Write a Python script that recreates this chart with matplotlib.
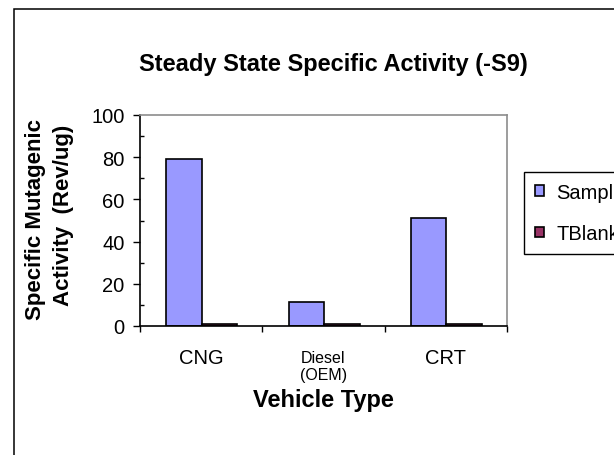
import numpy as np
import matplotlib
matplotlib.use("Agg")
import matplotlib.pyplot as plt
from matplotlib.patches import Rectangle

plt.rcParams["font.family"] = ["Liberation Sans", "DejaVu Sans"]

categories = ["CNG", "Diesel\n(OEM)", "CRT"]
sample = [79, 11.5, 51]
tblank = [0.9, 0.9, 0.9]

W, H = 614, 456
fig = plt.figure(figsize=(W / 100, H / 100), dpi=100)
ax = fig.add_axes([140 / W, 1 - 327 / H, 367 / W, 211 / H])

x = np.arange(len(categories)) + 0.5
w = 0.29
ax.bar(x - w / 2 + 0.005, sample, w, color="#9999FF", edgecolor="black", linewidth=1.2, label="Sample")
ax.bar(x + w / 2 + 0.005, tblank, w, color="#993366", edgecolor="black", linewidth=1.2, label="TBlank")

ax.set_xlim(0, 3)
ax.set_ylim(0, 100)
ax.set_yticks([0, 20, 40, 60, 80, 100])
ax.set_yticks([10, 30, 50, 70, 90], minor=True)
ax.set_xticks([0, 1, 2, 3])
ax.set_xticklabels([])
ax.tick_params(axis="y", which="major", length=5, width=1, labelsize=14.5, pad=6)
ax.tick_params(axis="y", which="minor", direction="in", length=3, width=1)
ax.tick_params(axis="x", length=4.3, width=1)

# category labels (Diesel uses a smaller font, as in the original)
for xi, lab in zip(x, categories):
    if "\n" in lab:
        ax.text(xi, -11.3, lab, ha="center", va="top", fontsize=11.5, linespacing=1.2)
    else:
        ax.text(xi, -14.8, lab, ha="center", va="center", fontsize=14.5)

for s in ["top", "right"]:
    ax.spines[s].set_color("#8C8C8C")
    ax.spines[s].set_linewidth(1.2)
for s in ["left", "bottom"]:
    ax.spines[s].set_linewidth(1.2)

fig.text(333 / W, 1 - 64 / H, "Steady State Specific Activity (-S9)",
         ha="center", va="center", fontsize=17, fontweight="bold")
fig.text(36 / W, 1 - 220 / H, "Specific Mutagenic", ha="center", va="center",
         rotation=90, fontsize=16, fontweight="bold")
fig.text(64 / W, 1 - 215 / H, "Activity  (Rev/ug)", ha="center", va="center",
         rotation=90, fontsize=16, fontweight="bold")
fig.text(323 / W, 1 - 401 / H, "Vehicle Type", ha="center", va="center",
         fontsize=17, fontweight="bold")

fig.legend(loc="upper left", bbox_to_anchor=(524 / W, 1 - 173 / H),
           fontsize=14.5, frameon=True, fancybox=False, edgecolor="black",
           framealpha=1, handlelength=0.45, handleheight=0.45, handletextpad=0.6,
           borderpad=0.55, labelspacing=1.1, borderaxespad=0)

fig.patches.append(Rectangle((14 / W, -0.1), 1.2, 1 - 9.5 / H + 0.1,
                             transform=fig.transFigure, fill=False,
                             edgecolor="black", linewidth=1.1))

fig.savefig("out.png", dpi=100)
